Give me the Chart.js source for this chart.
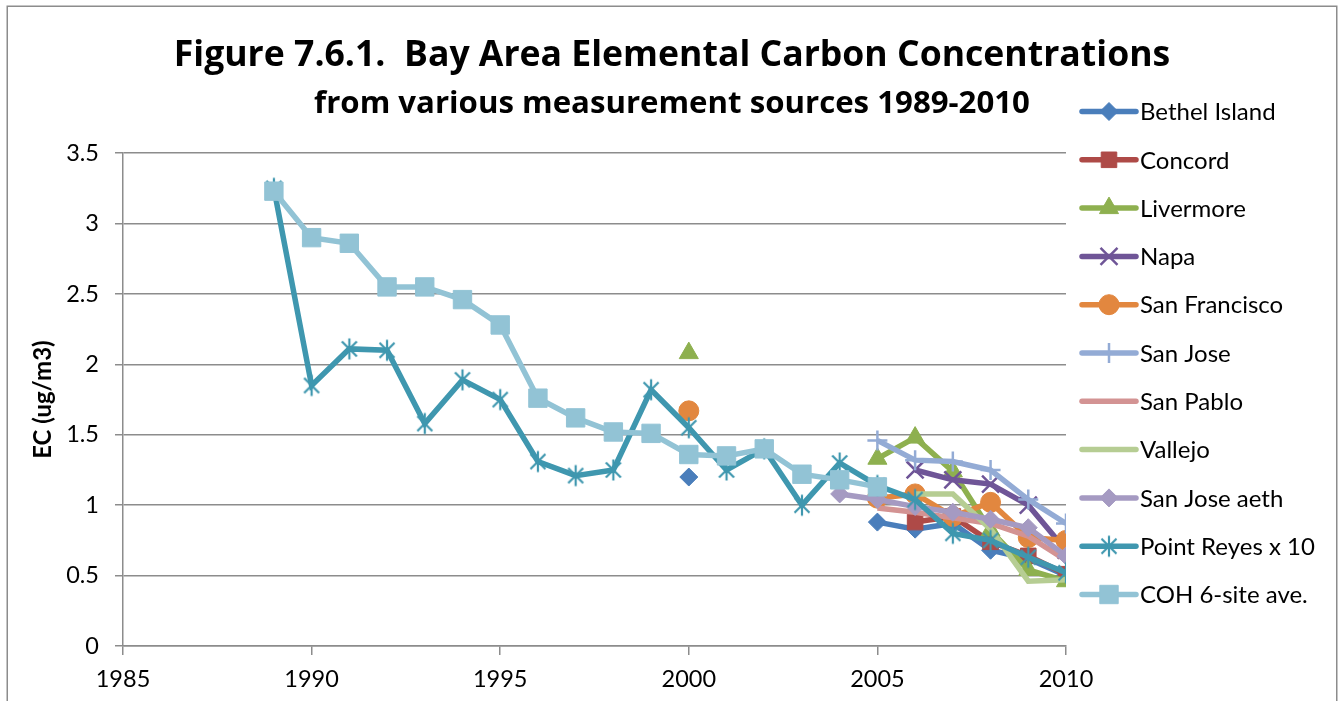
<!DOCTYPE html>
<html>
<head>
<meta charset="utf-8">
<script src="https://cdn.jsdelivr.net/npm/chart.js@4.4.1/dist/chart.umd.min.js"></script>
<style>
  html, body { margin: 0; padding: 0; background: #ffffff; overflow: hidden; }
  #wrap { width: 1344px; height: 701px; position: relative; }
</style>
</head>
<body>
<div id="wrap"><canvas id="c" width="1344" height="701"></canvas></div>
<script>
// Years covered by the measurement record
const years = [1989, 1990, 1991, 1992, 1993, 1994, 1995, 1996, 1997, 1998, 1999,
               2000, 2001, 2002, 2003, 2004, 2005, 2006, 2007, 2008, 2009, 2010];

// Annual elemental carbon concentrations (ug/m3), one value per year above
const bethelIsland = [null, null, null, null, null, null, null, null, null, null, null,
                      1.20, null, null, null, null, 0.88, 0.83, 0.87, 0.68, 0.62, 0.50];
const concord      = [null, null, null, null, null, null, null, null, null, null, null,
                      null, null, null, null, null, null, 0.88, 0.92, 0.74, 0.64, 0.51];
const livermore    = [null, null, null, null, null, null, null, null, null, null, null,
                      2.08, null, null, null, null, 1.33, 1.48, 1.24, 0.82, 0.54, 0.46];
const napa         = [null, null, null, null, null, null, null, null, null, null, null,
                      null, null, null, null, null, null, 1.25, 1.18, 1.15, 1.00, 0.68];
const sanFrancisco = [null, null, null, null, null, null, null, null, null, null, null,
                      1.67, null, null, null, null, 1.05, 1.08, 0.92, 1.02, 0.77, 0.75];
const sanJose      = [null, null, null, null, null, null, null, null, null, null, null,
                      null, null, null, null, null, 1.46, 1.32, 1.31, 1.25, 1.04, 0.87];
const sanPablo     = [null, null, null, null, null, null, null, null, null, null, null,
                      null, null, null, null, null, 0.98, 0.95, 0.91, 0.87, 0.78, 0.61];
const vallejo      = [null, null, null, null, null, null, null, null, null, null, null,
                      null, null, null, null, null, null, 1.08, 1.08, 0.83, 0.46, 0.47];
const sanJoseAeth  = [null, null, null, null, null, null, null, null, null, null, null,
                      null, null, null, null, 1.08, 1.04, 0.99, 0.95, 0.90, 0.84, 0.64];
const pointReyes10 = [3.25, 1.85, 2.11, 2.10, 1.58, 1.89, 1.75, 1.31, 1.21, 1.25, 1.82,
                      1.55, 1.25, 1.40, 1.00, 1.30, 1.14, 1.04, 0.80, 0.75, 0.63, 0.52];
const coh6Site     = [3.23, 2.90, 2.86, 2.55, 2.55, 2.46, 2.28, 1.76, 1.62, 1.52, 1.51,
                      1.36, 1.35, 1.40, 1.22, 1.18, 1.13, null, null, null, null, null];

// Axis tick values
const xTicks = [1985, 1990, 1995, 2000, 2005, 2010];
const yTicks = [0, 0.5, 1, 1.5, 2, 2.5, 3, 3.5];

const seriesNames = ['Bethel Island', 'Concord', 'Livermore', 'Napa', 'San Francisco', 'San Jose',
                     'San Pablo', 'Vallejo', 'San Jose aeth', 'Point Reyes x 10', 'COH 6-site ave.'];
const seriesValues = [bethelIsland, concord, livermore, napa, sanFrancisco, sanJose,
                      sanPablo, vallejo, sanJoseAeth, pointReyes10, coh6Site];

// Asterisk marker: an X with a vertical bar through it
function makeAsterisk(color) {
  const c = document.createElement('canvas');
  c.width = 24; c.height = 24;
  const g = c.getContext('2d');
  g.strokeStyle = color; g.lineWidth = 2.2; g.lineCap = 'butt';
  g.beginPath();
  g.moveTo(12, 1.5); g.lineTo(12, 22.5);
  g.moveTo(4.5, 4.5); g.lineTo(19.5, 19.5);
  g.moveTo(19.5, 4.5); g.lineTo(4.5, 19.5);
  g.stroke();
  return c;
}

const styles = [
  { color: '#4A7EBB', pointStyle: 'rectRot',  radius: 9,  pbw: 1 },
  { color: '#AE4A47', pointStyle: 'rect',     radius: 11, pbw: 1 },
  { color: '#8EB04F', pointStyle: 'triangle', radius: 11, pbw: 1 },
  { color: '#6F5597', pointStyle: 'crossRot', radius: 12, pbw: 2.5 },
  { color: '#E2873F', pointStyle: 'circle',   radius: 10, pbw: 1 },
  { color: '#93ABD5', pointStyle: 'cross',    radius: 10, pbw: 2.5 },
  { color: '#D39393', pointStyle: 'circle',   radius: 0,  pbw: 0 },
  { color: '#B6CD93', pointStyle: 'circle',   radius: 0,  pbw: 0 },
  { color: '#A59AC2', pointStyle: 'rectRot',  radius: 9,  pbw: 1 },
  { color: '#3F97AF', pointStyle: null,       radius: 11, pbw: 1 },
  { color: '#92C3D5', pointStyle: 'rect',     radius: 13, pbw: 1 }
];
styles[9].pointStyle = makeAsterisk(styles[9].color);

const datasets = seriesNames.map((name, i) => ({
  label: name,
  data: years.map((yr, k) => ({ x: yr, y: seriesValues[i][k] })),
  borderColor: styles[i].color,
  backgroundColor: styles[i].color,
  pointBackgroundColor: styles[i].color,
  pointBorderColor: styles[i].color,
  pointStyle: styles[i].pointStyle,
  pointRadius: styles[i].radius,
  pointHoverRadius: styles[i].radius,
  pointBorderWidth: styles[i].pbw,
  borderWidth: 5.5,
  tension: 0,
  spanGaps: false,
  // later series are painted over earlier ones
  order: seriesNames.length - 1 - i
}));

const gridGray = '#8c8c8c';
const fontFamily = 'Lato, "Open Sans", sans-serif';
const titleFamily = '"Open Sans", Lato, sans-serif';

// Outer frame of the chart
const framePlugin = {
  id: 'frame',
  beforeDraw(chart) {
    const ctx = chart.ctx;
    ctx.save();
    ctx.fillStyle = '#ffffff';
    ctx.fillRect(0, 0, chart.width, chart.height);
    ctx.strokeStyle = '#8c8c8c';
    ctx.lineWidth = 1.5;
    ctx.strokeRect(7.25, 6.25, chart.width - 14.5, chart.height + 40);
    ctx.restore();
  }
};

// Right-hand legend drawn as its own layout box (line sample + marker + label)
const sideLegend = {
  id: 'sideLegend',
  beforeInit(chart) {
    const box = {
      position: 'right',
      weight: 0,
      fullSize: false,
      options: { stackWeight: 1 },
      isHorizontal() { return false; },
      update(maxWidth, maxHeight) { this.width = 278; this.height = maxHeight; },
      draw() {
        const ctx = chart.ctx;
        const x0 = this.left + 16;
        const x1 = this.left + 70;
        const xm = (x0 + x1) / 2;
        const textX = this.left + 74;
        ctx.save();
        chart.data.datasets.forEach((ds, i) => {
          const y = 111.5 + i * 48.3;
          ctx.strokeStyle = ds.borderColor;
          ctx.lineWidth = ds.borderWidth;
          ctx.lineCap = 'round';
          ctx.beginPath();
          ctx.moveTo(x0, y);
          ctx.lineTo(x1, y);
          ctx.stroke();
          if (ds.pointRadius > 0) {
            ctx.fillStyle = ds.pointBackgroundColor;
            ctx.strokeStyle = ds.pointBorderColor;
            ctx.lineWidth = ds.pointBorderWidth;
            ctx.lineCap = 'butt';
            Chart.helpers.drawPoint(ctx, {
              pointStyle: ds.pointStyle,
              radius: ds.pointRadius,
              rotation: 0,
              borderWidth: ds.pointBorderWidth
            }, xm, y);
          }
          ctx.fillStyle = '#000000';
          ctx.font = '24px ' + fontFamily;
          ctx.textBaseline = 'middle';
          ctx.textAlign = 'left';
          ctx.fillText(ds.label, textX, y + 1);
        });
        ctx.restore();
      }
    };
    Chart.layouts.addBox(chart, box);
  }
};

new Chart(document.getElementById('c'), {
  type: 'line',
  data: { datasets },
  plugins: [framePlugin, sideLegend],
  options: {
    responsive: false,
    animation: false,
    events: [],
    layout: { padding: 0 },
    plugins: {
      legend: { display: false },
      tooltip: { enabled: false },
      title: {
        display: true,
        text: 'Figure 7.6.1.  Bay Area Elemental Carbon Concentrations',
        color: '#000000',
        font: { family: titleFamily, size: 35.6, weight: 'bold' },
        padding: { top: 34, bottom: 2 }
      },
      subtitle: {
        display: true,
        text: 'from various measurement sources 1989-2010',
        color: '#000000',
        font: { family: titleFamily, size: 31.2, weight: 'bold' },
        padding: { top: 7, bottom: 30 }
      }
    },
    scales: {
      x: {
        type: 'linear',
        min: xTicks[0],
        max: xTicks[xTicks.length - 1],
        afterBuildTicks(scale) { scale.ticks = xTicks.map(v => ({ value: v })); },
        afterFit(scale) { scale.height = 55; },
        ticks: {
          autoSkip: false,
          maxRotation: 0,
          color: '#000000',
          padding: 10,
          font: { family: fontFamily, size: 23.5 },
          callback: v => String(v)
        },
        grid: { drawOnChartArea: false, drawTicks: true, tickLength: 9, color: gridGray, lineWidth: 1.5 },
        border: { display: true, color: gridGray, width: 1.5 }
      },
      y: {
        min: yTicks[0],
        max: yTicks[yTicks.length - 1],
        afterBuildTicks(scale) { scale.ticks = yTicks.map(v => ({ value: v })); },
        afterFit(scale) { scale.width = 123; },
        ticks: {
          color: '#000000',
          padding: 16,
          font: { family: fontFamily, size: 23.5 },
          callback: v => String(v)
        },
        grid: { color: gridGray, lineWidth: 1.5, tickLength: 8 },
        border: { display: true, color: gridGray, width: 1.5 },
        title: {
          display: true,
          text: 'EC (ug/m3)',
          color: '#000000',
          font: { family: fontFamily, size: 24, weight: 'bold' },
          padding: { top: 29, bottom: 0 }
        }
      }
    }
  }
});
</script>
</body>
</html>
